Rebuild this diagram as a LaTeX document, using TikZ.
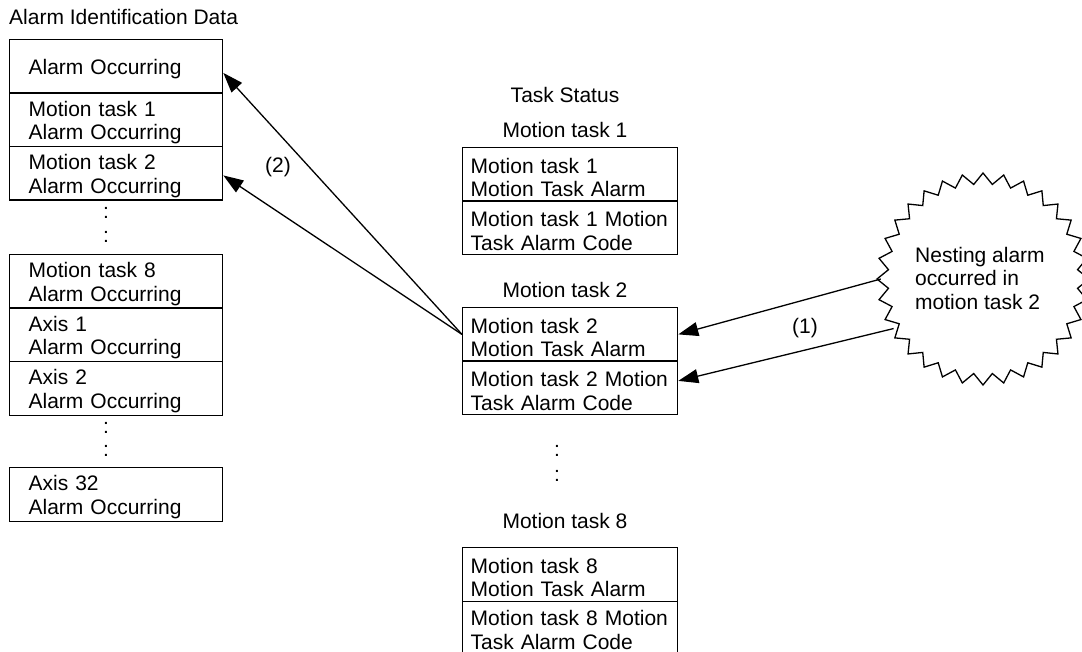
\documentclass[tikz,border=0pt]{standalone}
\usepackage{fontspec}
\setmainfont{Liberation Sans}
\usetikzlibrary{arrows.meta,calc}
\newcommand\mystrut{\rule{0pt}{21pt}}
\tikzset{
  txt/.style={font=\fontsize{21pt}{23.5pt}\selectfont, inner sep=0pt},
  cellbase/.style={txt, draw, line width=1.3pt, anchor=north west, minimum height=53.5pt, inner ysep=0pt, align=left},
  lbox/.style={cellbase, text width=175pt, inner xsep=19pt},
  mbox/.style={cellbase, text width=199pt, inner xsep=8pt},
  arr/.style={line width=1.3pt, -{Triangle[length=20pt,width=14pt]}},
}
\begin{document}
\begin{tikzpicture}[x=1pt,y=-1pt]
\useasboundingbox (0,0) rectangle (1082,652);
% titles
\node[txt, anchor=west] (title) at (9,17) {Alarm Identification Data};
\node[txt] (taskstatus) at (565,95) {Task Status};
\node[txt] (lm1) at (565,130) {Motion task 1};
\node[txt] (lm2) at (565,290) {Motion task 2};
\node[txt] (lm8) at (565,521) {Motion task 8};
% left column
\node[lbox] (L1) at (9,39) {\mystrut Alarm Occurring};
\node[lbox] (L2) at (9,92.5) {\mystrut Motion task 1\\Alarm Occurring};
\node[lbox] (L3) at (9,146) {\mystrut Motion task 2\\Alarm Occurring};
\node[txt] (dl1) at (106,213) {:};
\node[txt] (dl2) at (106,237) {:};
\node[lbox] (L4) at (9,254) {\mystrut Motion task 8\\Alarm Occurring};
\node[lbox] (L5) at (9,307.5) {\mystrut Axis 1\\Alarm Occurring};
\node[lbox] (L6) at (9,361) {\mystrut Axis 2\\Alarm Occurring};
\node[txt] (dl3) at (106,428) {:};
\node[txt] (dl4) at (106,451) {:};
\node[lbox] (L7) at (9,467) {\mystrut Axis 32\\Alarm Occurring};
% middle column
\node[mbox] (M1a) at (462,147) {\mystrut Motion task 1\\Motion Task Alarm};
\node[mbox] (M1b) at (462,200.5) {\mystrut Motion task 1 Motion\\Task Alarm Code};
\node[mbox] (M2a) at (462,307) {\mystrut Motion task 2\\Motion Task Alarm};
\node[mbox] (M2b) at (462,360.5) {\mystrut Motion task 2 Motion\\Task Alarm Code};
\node[txt] (dm1) at (557,451) {:};
\node[txt] (dm2) at (557,476) {:};
\node[mbox] (M8a) at (462,547) {\mystrut Motion task 8\\Motion Task Alarm};
\node[mbox, minimum height=54pt] (M8b) at (462,600.5) {\rule{0pt}{19pt}Motion task 8 Motion\\Task Alarm Code};
% burst
\node[circle, minimum size=204pt, inner sep=0pt] (burst) at (983,279) {};
\draw[line width=1.3pt, line join=miter]
  plot[samples at={0,...,63}] ({983+(100.5+5.5*cos(\x*180))*cos(\x*5.625)}, {279+(100.5+5.5*cos(\x*180))*sin(\x*5.625)}) -- cycle;
\node[txt, anchor=west, align=left] (bursttext) at (915,278) {Nesting alarm\\occurred in\\motion task 2};
% arrows
\draw[arr] (M2a.west) -- ([yshift=-6.5pt]L1.east);
\draw[arr] (M2a.west) -- ([yshift=-2pt]L3.east);
\draw[arr] (burst.180) -- (M2a.east);
\draw[arr] (burst.209) -- ([yshift=7pt]M2b.east);
\node[txt] (lab2) at (278,167) {(2)};
\node[txt] (lab1) at (805,328) {(1)};
\end{tikzpicture}
\end{document}
